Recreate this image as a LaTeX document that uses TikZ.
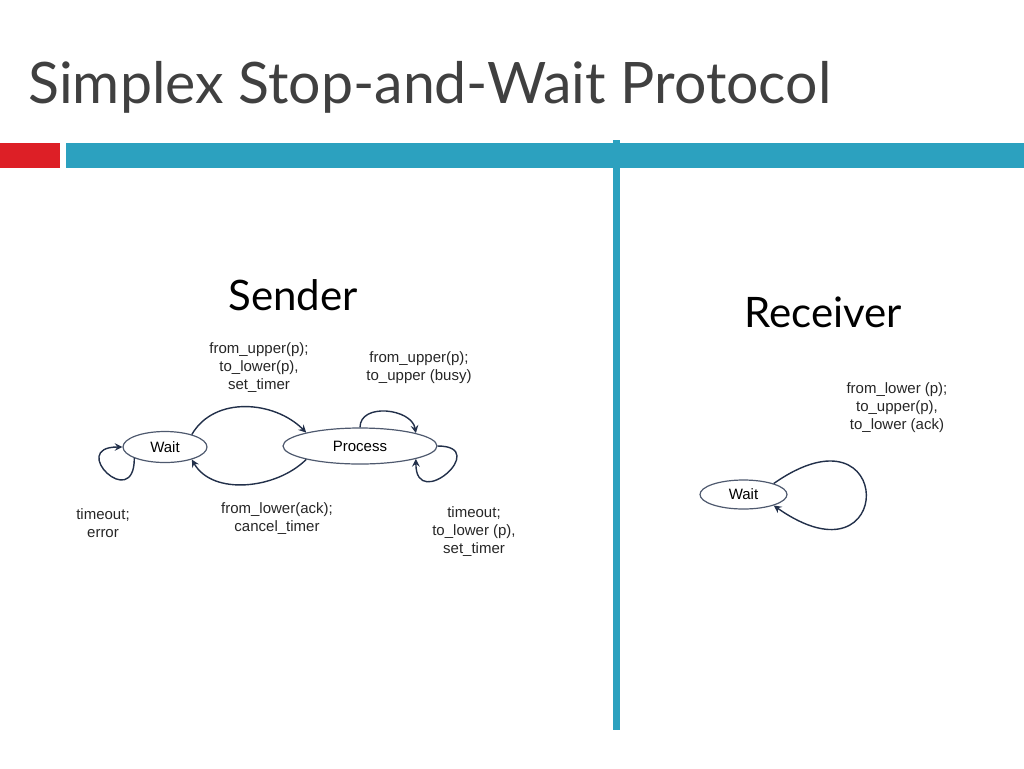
\documentclass[tikz,border=0pt]{standalone}
\usepackage{fontspec}
\setmainfont{Liberation Sans}
\newfontfamily\slidefont{Lato}
\usepackage{tikz}
\usetikzlibrary{positioning,shapes.geometric}
\definecolor{barred}{HTML}{DD1F26}
\definecolor{barblue}{HTML}{2CA1BF}
\definecolor{navy}{HTML}{22304A}
\definecolor{titlegray}{HTML}{404040}
\tikzset{state/.style={ellipse,draw=navy!80,line width=0.6pt,inner sep=0pt,font=\fontsize{7.5}{9}\selectfont},
	 trans/.style={->,>=stealth,draw=navy,line width=0.7pt},
	 act/.style={align=center,text=black!85,font=\fontsize{7.5}{9}\selectfont},
	 side/.style={font=\slidefont\fontsize{21}{25}\selectfont}
	 }

\begin{document}
\begin{tikzpicture}[x=0.5pt,y=-0.5pt]
        \useasboundingbox (0,0) rectangle (1024,768);
        % slide frame
        \node[anchor=base west,text=titlegray,font=\slidefont\fontsize{28.6}{32}\selectfont,inner sep=0pt] (title) at (28,103) {Simplex Stop-and-Wait Protocol};
        \fill[barred] (0,143) rectangle (60,168);
        \fill[barblue] (66,143) rectangle (1024,168);
        \fill[barblue] (613,140) rectangle (620,730);
        \node[side] (snd) at (293,295) {Sender};
        \node[side] (rcv) at (823,312) {Receiver};
        % sender
        \node[state,minimum width=42pt,minimum height=15.5pt] (wait) at (165,447) {Wait};
        \node[state,minimum width=77pt,minimum height=18pt] (proc) at (360,446) {Process};
        \draw[trans] (wait.25) to[out=60,in=135,distance=22.5pt] (proc.166);
        \draw[trans] (proc.194) to[out=-135,in=-60,distance=21pt] (wait.-25);
        \draw[trans] (wait.200) to[out=-90,in=180,distance=27.5pt] (wait.180);
        \draw[trans] (proc.north) to[out=90,in=100,distance=12.5pt] (proc.13);
        \draw[trans] (proc.east) to[out=0,in=-90,distance=27pt] (proc.-13);
        \node[act] (l1) at (259,368) {from\_upper(p);\\to\_lower(p),\\set\_timer};
        \node[act] (l2) at (419,367.5) {from\_upper(p);\\to\_upper (busy)};
        \node[act] (l3) at (103,523) {timeout;\\error};
        \node[act] (l4) at (277,519) {from\_lower(ack);\\cancel\_timer};
        \node[act] (l5) at (474,532) {timeout;\\to\_lower (p),\\set\_timer};
        % receiver
        \node[state,minimum width=43.5pt,minimum height=14.5pt] (rwait) at (743.5,494.5) {Wait};
        \draw[trans] (rwait.20) to[out=35,in=-35,distance=75pt] (rwait.-20);
        \node[act] (l6) at (897,408) {from\_lower (p);\\to\_upper(p),\\to\_lower (ack)};
\end{tikzpicture}
\end{document}
